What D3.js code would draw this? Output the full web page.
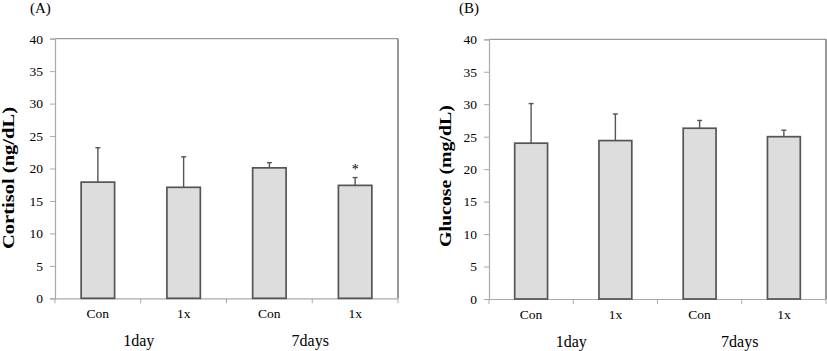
<!DOCTYPE html>
<html><head><meta charset="utf-8">
<script src="https://cdn.jsdelivr.net/npm/d3@7"></script>
<style>body{margin:0;background:#fff}svg{display:block}</style>
</head><body>
<svg id="c" width="827" height="351"></svg>
<script>
const categories = ["Con", "1x", "Con", "1x"];
const groups = ["1day", "7days"];
const yTicks = [0, 5, 10, 15, 20, 25, 30, 35, 40];
const cortisolMean = [17.9, 17.1, 20.1, 17.4];
const cortisolErr  = [5.3, 4.7, 0.8, 1.2];
const cortisolSig  = ["", "", "", "*"];
const glucoseMean  = [24.0, 24.4, 26.3, 25.0];
const glucoseErr   = [6.1, 4.1, 1.2, 1.0];
const glucoseSig   = ["", "", "", ""];

const svg = d3.select("#c");
const font = "'Liberation Serif', 'Times New Roman', serif";

function panel(o) {
  const g = svg.append("g");
  const x = d3.scaleBand().domain(d3.range(categories.length)).range([o.left, o.right]).paddingInner(0).paddingOuter(0);
  const y = d3.scaleLinear().domain([0, 40]).range([o.bottom, o.top]);
  const bw = x.bandwidth() * 0.39;

  // frame top/right
  g.append("line").attr("x1", o.left).attr("x2", o.right).attr("y1", o.top).attr("y2", o.top)
    .attr("stroke", "#9a9a9a").attr("stroke-width", 1.2);
  g.append("line").attr("x1", o.right).attr("x2", o.right).attr("y1", o.top).attr("y2", o.bottom)
    .attr("stroke", "#555").attr("stroke-width", 1.2);

  // y axis
  const ya = g.append("g").attr("transform", `translate(${o.left},0)`)
    .call(d3.axisLeft(y).tickValues(yTicks).tickSize(5).tickPadding(7));
  ya.select(".domain").attr("stroke", "#aaa").attr("stroke-width", 1.2);
  ya.selectAll(".tick line").attr("stroke", "#aaa");
  ya.selectAll("text").attr("font-family", font).attr("font-size", 13.5).attr("fill", "#000");

  // x axis
  const xa = g.append("g").attr("transform", `translate(0,${o.bottom})`)
    .call(d3.axisBottom(x).tickValues([]).tickSizeOuter(0));
  xa.select(".domain").attr("stroke", "#aaa").attr("stroke-width", 1.2);
  const bounds = d3.range(categories.length + 1).map(i => o.left + i * x.step());
  g.selectAll(".xt").data(bounds).join("line")
    .attr("x1", d => d).attr("x2", d => d).attr("y1", o.bottom).attr("y2", o.bottom + 5)
    .attr("stroke", "#aaa");

  // bars
  g.selectAll(".bar").data(o.mean).join("rect")
    .attr("x", (d, i) => x(i) + x.bandwidth() / 2 - bw / 2)
    .attr("width", bw)
    .attr("y", d => y(d))
    .attr("height", d => o.bottom - y(d))
    .attr("fill", "#dddddd").attr("stroke", "#555").attr("stroke-width", 1.7);

  // error bars
  g.selectAll(".err").data(o.mean).join("line")
    .attr("x1", (d, i) => x(i) + x.bandwidth() / 2).attr("x2", (d, i) => x(i) + x.bandwidth() / 2)
    .attr("y1", d => y(d)).attr("y2", (d, i) => y(d + o.err[i]))
    .attr("stroke", "#555").attr("stroke-width", 1.4);
  g.selectAll(".cap").data(o.mean).join("line")
    .attr("x1", (d, i) => x(i) + x.bandwidth() / 2 - 2.5).attr("x2", (d, i) => x(i) + x.bandwidth() / 2 + 2.5)
    .attr("y1", (d, i) => y(d + o.err[i])).attr("y2", (d, i) => y(d + o.err[i]))
    .attr("stroke", "#555").attr("stroke-width", 1.4);
  g.selectAll(".sig").data(o.sig).join("text")
    .attr("x", (d, i) => x(i) + x.bandwidth() / 2)
    .attr("y", (d, i) => y(o.mean[i] + o.err[i]) - 4)
    .attr("text-anchor", "middle").attr("font-family", font).attr("font-size", 14).attr("fill", "#000")
    .text(d => d);

  // category labels
  g.selectAll(".cat").data(categories).join("text")
    .attr("x", (d, i) => x(i) + x.bandwidth() / 2).attr("y", o.bottom + 20)
    .attr("text-anchor", "middle").attr("font-family", font).attr("font-size", 13.5).attr("fill", "#000")
    .text(d => d);
  // group labels
  g.selectAll(".grp").data(groups).join("text")
    .attr("x", (d, i) => o.left + (2 * i + 1) * x.step() - 2).attr("y", o.bottom + 48)
    .attr("text-anchor", "middle").attr("font-family", font).attr("font-size", 16).attr("fill", "#000")
    .text(d => d);

  // y label
  g.append("text")
    .attr("transform", `translate(${o.ylabX},${o.ylabY}) rotate(-90)`)
    .attr("text-anchor", "middle").attr("font-family", font).attr("font-size", 17)
    .attr("font-weight", "bold").attr("fill", "#000")
    .attr("textLength", 142).attr("lengthAdjust", "spacingAndGlyphs")
    .text(o.ylabel);
  // panel letter
  g.append("text").attr("x", o.letterX).attr("y", 13)
    .attr("font-family", font).attr("font-size", 15).attr("fill", "#000").text(o.letter);
}

panel({left: 55, right: 398, top: 38.7, bottom: 298.3, mean: cortisolMean, err: cortisolErr, sig: cortisolSig,
  ylabel: "Cortisol (ng/dL)", ylabX: 14, ylabY: 178, letter: "(A)", letterX: 30});
panel({left: 489, right: 826, top: 39.3, bottom: 299, mean: glucoseMean, err: glucoseErr, sig: glucoseSig,
  ylabel: "Glucose (mg/dL)", ylabX: 451, ylabY: 176, letter: "(B)", letterX: 459});
</script>
</body></html>
